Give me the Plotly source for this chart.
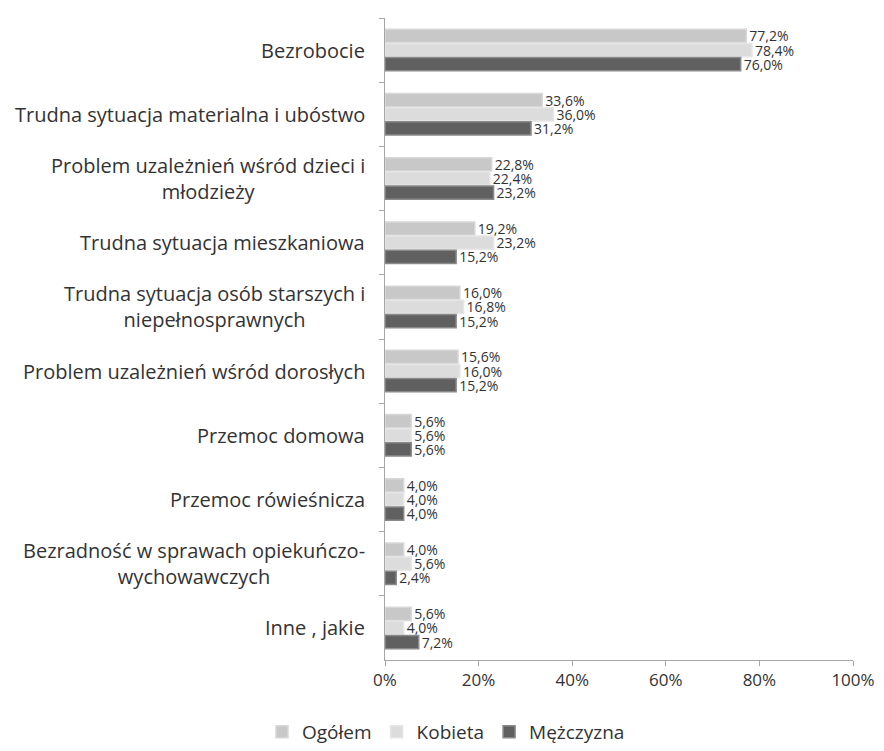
import plotly.graph_objects as go

categories = [
    "Bezrobocie",
    "Trudna sytuacja materialna i ubóstwo",
    "Problem uzależnień wśród dzieci i<br>młodzieży",
    "Trudna sytuacja mieszkaniowa",
    "Trudna sytuacja osób starszych i<br>niepełnosprawnych",
    "Problem uzależnień wśród dorosłych",
    "Przemoc domowa",
    "Przemoc rówieśnicza",
    "Bezradność w sprawach opiekuńczo-<br>wychowawczych",
    "Inne , jakie",
]
ogolem = [77.2, 33.6, 22.8, 19.2, 16.0, 15.6, 5.6, 4.0, 4.0, 5.6]
kobieta = [78.4, 36.0, 22.4, 23.2, 16.8, 16.0, 5.6, 4.0, 5.6, 4.0]
mezczyzna = [76.0, 31.2, 23.2, 15.2, 15.2, 15.2, 5.6, 4.0, 2.4, 7.2]
series_names = ["Ogółem", "Kobieta", "Mężczyzna"]
x_ticks = [0, 20, 40, 60, 80, 100]
x_tick_labels = ["0%", "20%", "40%", "60%", "80%", "100%"]

colors = ["#c8c8c8", "#dcdcdc", "#606060"]
lines = ["#d8d8d8", "#e6e6e6", "#8a8a8a"]

FONT = "Open Sans"

def fmt(v):
    return f"{v:.1f}%".replace(".", ",")

fig = go.Figure()
for name, vals, c, lc in zip(series_names, [ogolem, kobieta, mezczyzna], colors, lines):
    fig.add_trace(go.Bar(
        y=categories, x=vals, name=name, orientation="h",
        marker=dict(color=c, line=dict(color=lc, width=1.5)),
        text=[fmt(v) for v in vals], textposition="outside",
        constraintext="none",
        textfont=dict(family=FONT, size=14, color="#333333"),
        cliponaxis=False,
    ))

for cat in categories:
    fig.add_annotation(
        x=0, xref="paper", y=cat, yref="y", text=cat, showarrow=False,
        xanchor="right", align="center", xshift=-18,
        font=dict(family=FONT, size=20, color="#333333"),
    )

fig.update_layout(
    width=876, height=743,
    margin=dict(l=377, r=31, t=10, b=91),
    paper_bgcolor="white", plot_bgcolor="white",
    barmode="group", bargap=0.34, bargroupgap=0.06,
    showlegend=True,
    legend=dict(orientation="h", xref="container", yref="container",
                x=0.5, xanchor="center", y=-0.014, yanchor="bottom",
                font=dict(family=FONT, size=19, color="#333333"),
                itemwidth=30, traceorder="normal", tracegroupgap=0),
    xaxis=dict(range=[0, 100], tickvals=x_ticks, ticktext=x_tick_labels,
               showgrid=False, zeroline=False, showline=True, linecolor="#a6a6a6",
               ticks="outside", tickcolor="#a6a6a6", ticklen=5,
               tickfont=dict(family=FONT, size=17, color="#333333")),
    yaxis=dict(autorange="reversed", showticklabels=False, showgrid=False,
               showline=True, linecolor="#a6a6a6", ticks="outside",
               tickson="boundaries", tickcolor="#a6a6a6", ticklen=5),
)

fig.write_html("out.html")
